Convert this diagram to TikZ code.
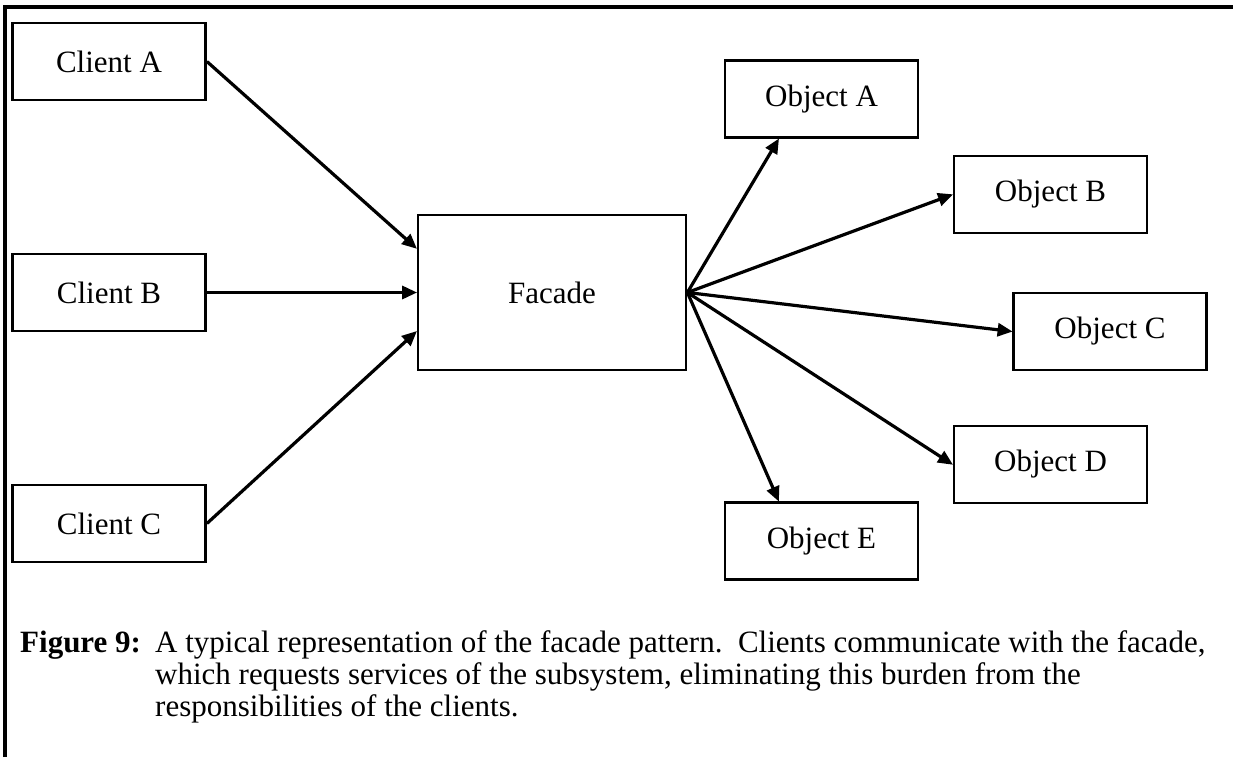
\documentclass[tikz,border=0pt]{standalone}
\usepackage{fontspec}
\setmainfont{Liberation Serif}
\usetikzlibrary{arrows.meta}
\begin{document}
\begin{tikzpicture}[x=1pt,y=-1pt,
  box/.style={draw=black,line width=2.8pt,rectangle,inner sep=0pt,
    minimum width=193pt,minimum height=77pt,
    font=\fontsize{31}{32}\selectfont},
  link/.style={line width=3.2pt,-{Triangle[length=15pt,width=13pt]},shorten >=-0.5pt},
  captext/.style={anchor=base west,inner sep=0pt,font=\fontsize{31}{32}\selectfont}]
\useasboundingbox (0,0) rectangle (1233,757);
% frame lines along the top and the left side
\draw[line width=3.4pt] (5,757) -- (5,7) -- (1233,7);

% clients
\node[box] (ca) at (109,61.5) {Client A};
\node[box] (cb) at (109,292.5) {Client B};
\node[box] (cc) at (109,523.5) {Client C};

% facade
\node[box,minimum width=268pt,minimum height=155pt] (fa) at (552,292.5) {Facade};

% subsystem objects
\node[box] (oa) at (821.5,99) {Object A};
\node[box] (ob) at (1050.5,194.5) {Object B};
\node[box] (oc) at (1110,331.5) {Object C};
\node[box] (od) at (1050.5,464.5) {Object D};
\node[box] (oe) at (821.5,541) {Object E};

% clients talk to the facade
\draw[link] (ca.east) -- (fa.162.4);
\draw[link] (cb.east) -- (fa.west);
\draw[link] (cc.east) -- (fa.196.4);

% facade talks to the subsystem
\draw[link] (fa.east) -- (oa.223);
\draw[link] (fa.east) -- (ob.west);
\draw[link] (fa.east) -- (oc.west);
\draw[link] (fa.east) -- (od.west);
\draw[link] (fa.east) -- (oe.137);

% caption
\node[captext,font=\fontsize{31}{32}\selectfont\bfseries] (fig) at (20,652) {Figure 9:};
\node[captext] (cap1) at (155,652) {A typical representation of the facade pattern.\ \ Clients communicate with the facade,};
\node[captext] (cap2) at (155,684) {which requests services of the subsystem, eliminating this burden from the};
\node[captext] (cap3) at (155,716) {responsibilities of the clients.};
\end{tikzpicture}
\end{document}
